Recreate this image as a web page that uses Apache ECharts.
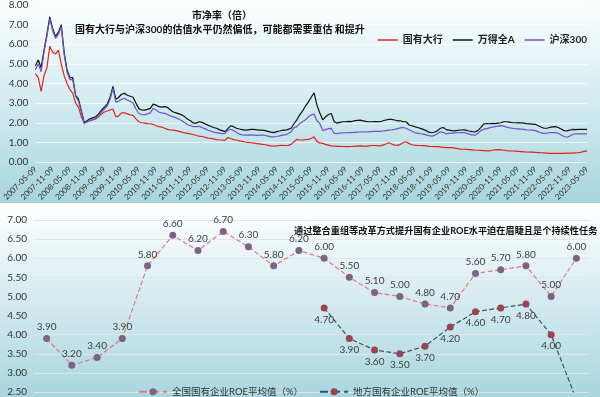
<!DOCTYPE html>
<html>
<head>
<meta charset="utf-8">
<script src="https://cdn.jsdelivr.net/npm/echarts@6/dist/echarts.min.js"></script>
<style>
  html, body { margin: 0; padding: 0; overflow: hidden; }
  #main { width: 600px; height: 397px; }
</style>
</head>
<body>
<div id="main"></div>
<script>
// 市净率（倍），月度取值，2007-05 ~ 2023-05
const bankPB = [
  4.5, 4.3, 3.6, 4.4, 4.8, 5.9, 5.6, 5.5, 5.7, 5.0, 4.4, 4.0,
  3.7, 3.5, 3.0, 2.8, 2.3, 2.0, 2.05, 2.1, 2.15, 2.2, 2.3, 2.45,
  2.55, 2.6, 2.65, 2.7, 2.3, 2.35, 2.5, 2.5, 2.45, 2.4, 2.38, 2.2,
  2.05, 2.0, 1.98, 1.96, 1.95, 1.92, 1.85, 1.8, 1.78, 1.72, 1.66, 1.63,
  1.62, 1.6, 1.56, 1.52, 1.48, 1.46, 1.43, 1.4, 1.35, 1.32, 1.3, 1.26,
  1.22, 1.2, 1.18, 1.14, 1.12, 1.12, 1.1, 1.25, 1.2, 1.14, 1.12, 1.08,
  1.05, 1.02, 1.0, 0.98, 0.96, 0.94, 0.92, 0.9, 0.88, 0.85, 0.82, 0.81,
  0.82, 0.84, 0.85, 0.84, 0.85, 0.9, 1.03, 1.15, 1.12, 1.12, 1.14, 1.15,
  1.2, 1.28, 1.05, 0.97, 0.95, 0.9, 0.86, 0.82, 0.81, 0.8, 0.8, 0.79,
  0.78, 0.78, 0.79, 0.8, 0.81, 0.82, 0.81, 0.8, 0.82, 0.84, 0.84, 0.83,
  0.82, 0.86, 0.92, 0.98, 0.92, 0.86, 0.85, 0.9, 0.98, 1.03, 0.95, 0.88,
  0.86, 0.84, 0.84, 0.83, 0.82, 0.8, 0.79, 0.78, 0.78, 0.77, 0.75, 0.73,
  0.74, 0.73, 0.71, 0.68, 0.66, 0.65, 0.64, 0.63, 0.62, 0.6, 0.6, 0.59,
  0.58, 0.57, 0.57, 0.6, 0.62, 0.63, 0.62, 0.6, 0.58, 0.57, 0.56, 0.55,
  0.54, 0.53, 0.52, 0.51, 0.5, 0.5, 0.49, 0.48, 0.47, 0.46, 0.45, 0.44,
  0.44, 0.44, 0.44, 0.44, 0.44, 0.45, 0.45, 0.45, 0.46, 0.47, 0.5, 0.54,
  0.57
]
const windAPB = [
  4.9, 5.2, 4.8, 5.7, 6.5, 7.4, 6.8, 6.4, 6.6, 7.0, 5.6, 4.7,
  4.3, 4.3, 3.4, 3.2, 2.6, 2.0, 2.1, 2.2, 2.25, 2.3, 2.45, 2.65,
  2.8, 2.95, 3.3, 3.85, 3.2, 3.3, 3.45, 3.5, 3.4, 3.35, 3.3, 3.0,
  2.72, 2.65, 2.64, 2.68, 2.73, 2.95, 2.9, 2.82, 2.8, 2.82, 2.78, 2.65,
  2.55, 2.5, 2.45, 2.4, 2.3, 2.18, 2.1, 1.98, 1.98, 2.05, 2.02, 1.95,
  1.88, 1.82, 1.76, 1.72, 1.65, 1.6, 1.55, 1.7, 1.85, 1.8, 1.72, 1.68,
  1.65, 1.62, 1.64, 1.66, 1.66, 1.64, 1.62, 1.62, 1.6, 1.56, 1.52, 1.5,
  1.55, 1.58, 1.62, 1.62, 1.66, 1.72, 1.95, 2.15, 2.4, 2.6, 2.85, 3.05,
  3.3, 3.52, 2.9, 2.5, 2.15, 2.3, 2.42, 2.47, 2.05, 1.98, 2.02, 2.05,
  2.05, 2.07, 2.06, 2.1, 2.12, 2.13, 2.1, 2.07, 2.05, 2.05, 2.06, 2.06,
  2.05, 2.1, 2.14, 2.17, 2.17, 2.14, 2.1, 2.1, 2.05, 2.05, 1.9, 1.85,
  1.8, 1.76, 1.71, 1.66, 1.6, 1.52, 1.49, 1.53, 1.6, 1.72, 1.76, 1.65,
  1.62, 1.6, 1.59, 1.61, 1.63, 1.64, 1.62, 1.58, 1.55, 1.54, 1.6, 1.75,
  1.93, 1.96, 1.95, 1.97, 1.96, 1.98, 2.0, 2.05, 2.05, 2.03, 2.0, 2.0,
  1.99, 2.0, 1.98, 1.95, 1.94, 1.93, 1.92, 1.85, 1.78, 1.72, 1.72, 1.76,
  1.79, 1.8, 1.76, 1.68, 1.6, 1.59, 1.62, 1.66, 1.65, 1.66, 1.67, 1.66,
  1.66
]
const hs300PB = [
  4.7, 5.0, 4.6, 5.6, 6.4, 7.3, 6.7, 6.3, 6.5, 6.9, 5.5, 4.6,
  4.2, 4.2, 3.35, 3.1, 2.55, 1.95, 2.05, 2.1, 2.15, 2.2, 2.35, 2.55,
  2.7, 2.85, 3.2, 3.75, 3.05, 3.1, 3.2, 3.25, 3.15, 3.1, 3.0, 2.7,
  2.47, 2.42, 2.4, 2.45, 2.5, 2.73, 2.65, 2.55, 2.5, 2.48, 2.42, 2.35,
  2.3, 2.25, 2.18, 2.1, 2.0, 1.9, 1.85, 1.8, 1.8, 1.82, 1.75, 1.7,
  1.62, 1.58, 1.52, 1.5, 1.47, 1.45, 1.46, 1.62, 1.67, 1.6, 1.5, 1.42,
  1.38, 1.37, 1.37, 1.38, 1.37, 1.36, 1.37, 1.37, 1.35, 1.32, 1.28, 1.28,
  1.3, 1.33, 1.37, 1.38, 1.45, 1.54, 1.75, 1.8, 1.96, 2.05, 2.15, 2.3,
  2.39, 2.45, 2.1, 1.96, 1.6, 1.65, 1.7, 1.71, 1.46, 1.45, 1.47, 1.48,
  1.49, 1.5, 1.5, 1.51, 1.52, 1.53, 1.54, 1.53, 1.54, 1.55, 1.56, 1.56,
  1.56, 1.58, 1.6, 1.62, 1.63, 1.66, 1.7, 1.74, 1.76, 1.72, 1.64, 1.58,
  1.5, 1.47, 1.44, 1.42, 1.38, 1.34, 1.32, 1.36, 1.45, 1.54, 1.5, 1.43,
  1.46, 1.47, 1.48, 1.49, 1.5, 1.5, 1.48, 1.42, 1.38, 1.37, 1.45, 1.6,
  1.66, 1.7, 1.74, 1.78, 1.8, 1.83, 1.85, 1.83, 1.78, 1.74, 1.72, 1.7,
  1.69, 1.68, 1.66, 1.64, 1.63, 1.62, 1.6, 1.55, 1.48, 1.46, 1.47, 1.49,
  1.5, 1.5, 1.46, 1.38, 1.3, 1.26, 1.32, 1.4, 1.43, 1.44, 1.43, 1.43,
  1.43
]

// ROE 平均值（%）
const roeYears = ['2000', '2001', '2002', '2003', '2004', '2005', '2006', '2007', '2008', '2009', '2010',
  '2011', '2012', '2013', '2014', '2015', '2016', '2017', '2018', '2019', '2020', '2021']
const roeNational = [3.9, 3.2, 3.4, 3.9, 5.8, 6.6, 6.2, 6.7, 6.3, 5.8, 6.2,
  6.0, 5.5, 5.1, 5.0, 4.8, 4.7, 5.6, 5.7, 5.8, 5.0, 6.0]
const roeLocal = [null, null, null, null, null, null, null, null, null, null, null,
  4.7, 3.9, 3.6, 3.5, 3.7, 4.2, 4.6, 4.7, 4.8, 4.0, 2.3]

// 月度日期类目（每月9日）
const pbDates = []
for (let i = 0; i < bankPB.length; i++) {
  const m = 4 + i // 从 2007-05 开始
  const y = 2007 + Math.floor(m / 12)
  const mm = (m % 12) + 1
  pbDates.push(y + '-' + (mm < 10 ? '0' + mm : mm) + '-09')
}

const FONT = 'Lato, "Noto Sans CJK SC", sans-serif'
const ROE_MIN = 2.5
const chart = echarts.init(document.getElementById('main'))

const bg = (y, h, stops) => ({
  type: 'rect',
  z: -10,
  shape: { x: 0, y: y, width: 600, height: h },
  style: { fill: new echarts.graphic.LinearGradient(0, 0, 0, 1, stops) },
  silent: true
})

chart.setOption({
  animation: false,
  textStyle: { fontFamily: FONT },
  graphic: [
    bg(0, 203, [
      { offset: 0, color: '#fdfefe' },
      { offset: 0.5, color: '#d3ecf0' },
      { offset: 1, color: '#a7d5de' }
    ]),
    bg(205, 192, [
      { offset: 0, color: '#ffffff' },
      { offset: 1, color: '#a9d6df' }
    ])
  ],
  title: [
    {
      text: '市净率（倍）',
      left: 187, top: 6,
      textStyle: { fontSize: 10, fontWeight: 'bold', color: '#111', fontFamily: FONT }
    },
    {
      text: '国有大行与沪深300的估值水平仍然偏低，可能都需要重估 和提升',
      left: 70, top: 20,
      textStyle: { fontSize: 10, fontWeight: 'bold', color: '#111', fontFamily: FONT }
    },
    {
      text: '通过整合重组等改革方式提升国有企业ROE水平迫在眉睫且是个持续性任务',
      left: 289, top: 221,
      textStyle: { fontSize: 9.2, fontWeight: 'bold', color: '#111', fontFamily: FONT }
    }
  ],
  legend: [
    {
      data: ['国有大行', '万得全A', '沪深300'],
      right: 8, top: 30,
      icon: 'rect', itemWidth: 20, itemHeight: 1.5, itemGap: 10,
      textStyle: { fontSize: 10, fontWeight: 'bold', color: '#222' }
    },
    {
      data: ['全国国有企业ROE平均值（%）', '地方国有企业ROE平均值（%）'],
      left: 133, top: 382,
      itemWidth: 28, itemHeight: 9, itemGap: 16,
      textStyle: { fontSize: 9.5, color: '#333' }
    }
  ],
  grid: [
    { left: 33, right: 13, top: 5, height: 157 },
    { left: 34, right: 11, top: 220, bottom: 0 }
  ],
  xAxis: [
    {
      type: 'category', gridIndex: 0, data: pbDates, boundaryGap: false,
      axisLine: { show: false }, axisTick: { show: false },
      axisLabel: { interval: 5, rotate: 45, fontSize: 8, color: '#333', margin: 6 }
    },
    {
      type: 'category', gridIndex: 1, data: roeYears,
      axisLine: { show: false }, axisTick: { show: false }, axisLabel: { show: false }
    }
  ],
  yAxis: [
    {
      type: 'value', gridIndex: 0, min: 0, max: 8, interval: 1,
      axisLabel: { formatter: v => v.toFixed(2), fontSize: 10, color: '#333', margin: 7 },
      splitLine: { lineStyle: { color: 'rgba(255,255,255,0.7)' } }
    },
    {
      type: 'value', gridIndex: 1, min: ROE_MIN, max: 7, interval: 0.5,
      axisLabel: { formatter: v => v.toFixed(2), fontSize: 10, color: '#333', margin: 7 },
      splitLine: { lineStyle: { color: '#dfe6e8' } }
    }
  ],
  series: [
    {
      name: '国有大行', type: 'line', xAxisIndex: 0, yAxisIndex: 0,
      data: bankPB, symbol: 'none', color: '#e0241c', lineStyle: { width: 1.2 }
    },
    {
      name: '万得全A', type: 'line', xAxisIndex: 0, yAxisIndex: 0,
      data: windAPB, symbol: 'none', color: '#111111', lineStyle: { width: 1.2 }
    },
    {
      name: '沪深300', type: 'line', xAxisIndex: 0, yAxisIndex: 0,
      data: hs300PB, symbol: 'none', color: '#7152c8', lineStyle: { width: 1.2 }
    },
    {
      name: '全国国有企业ROE平均值（%）', type: 'line', xAxisIndex: 1, yAxisIndex: 1,
      data: roeNational, symbol: 'circle', symbolSize: 7,
      itemStyle: { color: '#7d6284' },
      lineStyle: { color: '#e07a82', type: 'dashed', width: 1.2 },
      label: {
        show: true, position: 'top', distance: 3, fontSize: 10, color: '#404040',
        formatter: p => p.value.toFixed(2)
      }
    },
    {
      name: '地方国有企业ROE平均值（%）', type: 'line', xAxisIndex: 1, yAxisIndex: 1,
      data: roeLocal, symbol: 'circle', symbolSize: 7, clip: true,
      itemStyle: { color: '#9c4250' },
      lineStyle: { color: '#2f5664', type: 'dashed', width: 1.2 },
      label: {
        show: true, position: 'bottom', distance: 3, fontSize: 10, color: '#404040',
        // 低于纵轴下限的点在画面之外，不显示标签
        formatter: p => (p.value == null || p.value < ROE_MIN) ? '' : p.value.toFixed(2)
      }
    }
  ]
})
</script>
</body>
</html>
